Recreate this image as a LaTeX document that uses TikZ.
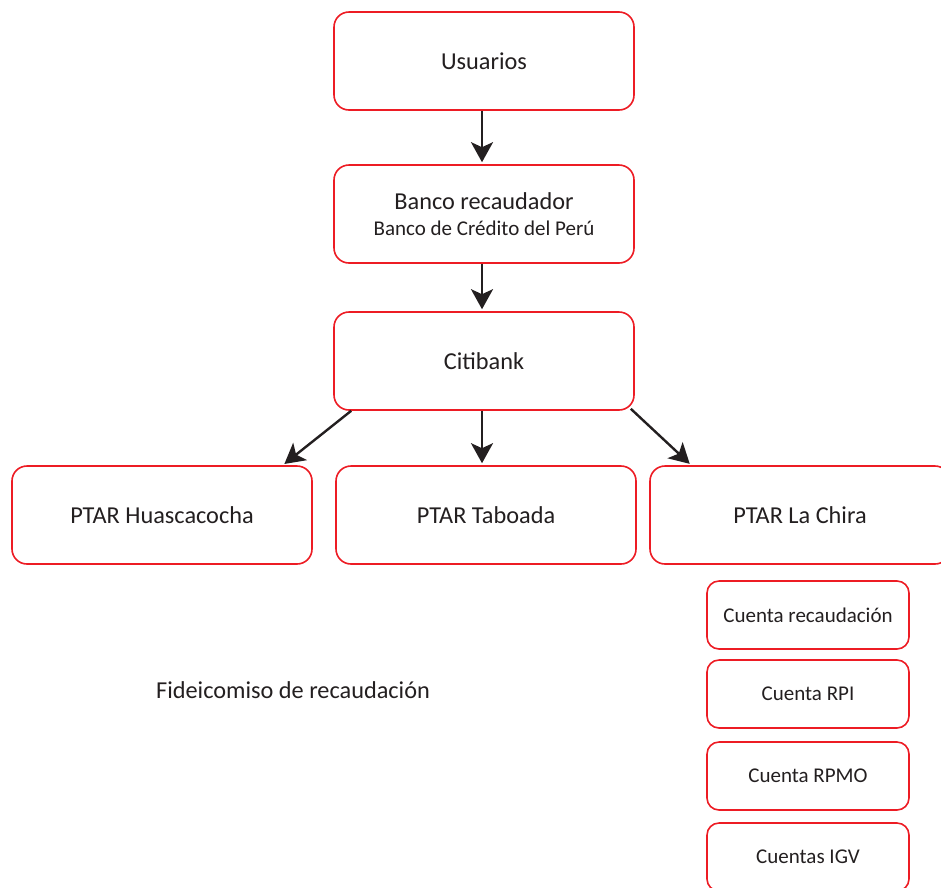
\documentclass[tikz,border=0pt]{standalone}
\usepackage{fontspec}
\setmainfont{Carlito}
\usetikzlibrary{arrows.meta,calc}
\definecolor{redline}{RGB}{237,28,36}
\definecolor{inkdark}{RGB}{35,31,32}
\tikzset{
  box/.style={draw=redline,line width=1.6pt,fill=white,rounded corners=15pt,
              align=center,minimum width=300pt,minimum height=98pt,inner sep=0pt,
              text=inkdark,font=\fontsize{24.3}{26}\selectfont},
  subbox/.style={box,rounded corners=12pt,minimum width=202pt,minimum height=68pt,
                 font=\fontsize{21}{24}\selectfont},
  flow/.style={-{Stealth[length=20pt,width=22pt,inset=5pt]},line width=2.4pt,
               draw=inkdark,shorten >=2pt},
}
\begin{document}
\begin{tikzpicture}[x=1pt,y=-1pt]
  \useasboundingbox (0,0) rectangle (941,887);
  \clip (0,0) rectangle (941,887);
  \node[box] (usu)    at (484,61)  {Usuarios};
  \node[box] (banco)  at (484,214) {Banco recaudador\\
    {\fontsize{21}{24}\selectfont Banco de Crédito del Perú}};
  \node[box] (citi)   at (484,361) {Citibank};
  \node[box] (huasca) at (162,515) {PTAR Huascacocha};
  \node[box] (taboada) at (486,515) {PTAR Taboada};
  \node[box] (chira)  at (800,515) {PTAR La Chira};

  \node[subbox] (crec)  at (808,615) {Cuenta recaudación};
  \node[subbox] (crpi)  at (808,694) {Cuenta RPI};
  \node[subbox] (crpmo) at (808,776) {Cuenta RPMO};
  \node[subbox] (cigv)  at (808,857) {Cuentas IGV};

  \node[text=inkdark,font=\fontsize{24.3}{26}\selectfont] (fid) at (293,690)
    {Fideicomiso de recaudación};

  \draw[flow] (usu.south -| 482,0) -- (banco.north -| 482,0);
  \draw[flow] (banco.south -| 482,0) -- (citi.north -| 482,0);
  \draw[flow] (citi.south -| 482,0) -- (taboada.north -| 482,0);
  \draw[flow] ($(citi.south west)+(18,0)$) -- ($(huasca.north east)+(-30,0)$);
  \draw[flow] ($(citi.south east)+(-4,-2)$) -- ($(chira.north west)+(42,0)$);
\end{tikzpicture}
\end{document}
